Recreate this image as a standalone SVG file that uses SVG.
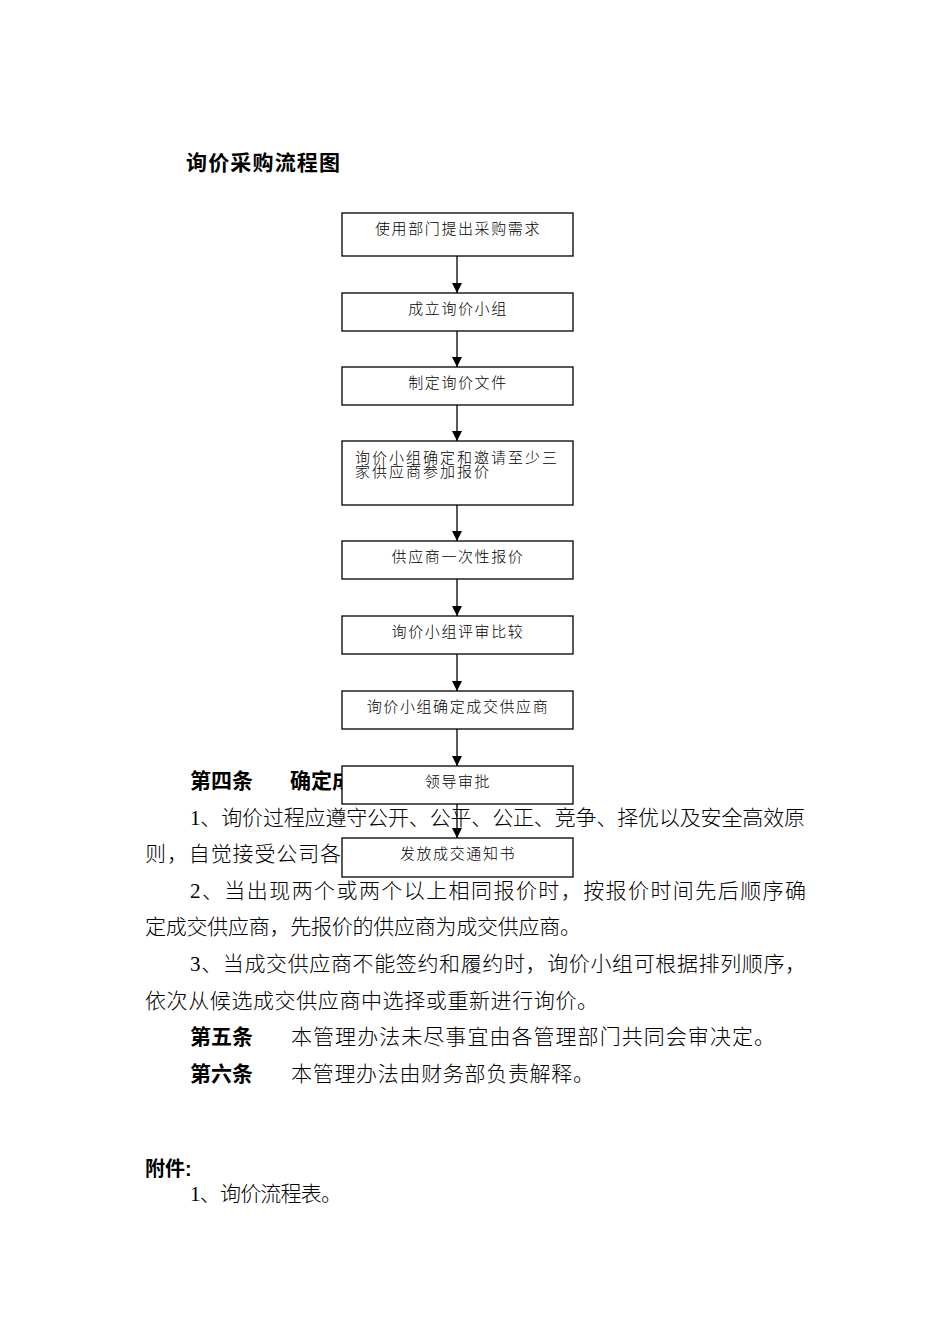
<svg xmlns="http://www.w3.org/2000/svg" width="950" height="1344" viewBox="0 0 950 1344">
<style>
.body{font-family:"Liberation Serif","Noto Sans CJK SC",serif;font-size:21px;fill:#000;font-weight:300}
.bold{font-family:"Liberation Sans","Noto Sans CJK SC",sans-serif;font-size:21px;fill:#000;font-weight:bold}
.box{fill:#fff;stroke:#000;stroke-width:1.3}
.lbl{font-family:"Liberation Serif","Noto Sans CJK SC",serif;font-size:15px;fill:#000;letter-spacing:1.6px;font-weight:300}
.mid{text-anchor:middle}
.conn line{stroke:#000;stroke-width:1.3;marker-end:url(#ah)}
</style>
<defs>
<marker id="ah" markerUnits="userSpaceOnUse" markerWidth="10" markerHeight="10" refX="10" refY="5" orient="auto">
<path d="M0,0 L10,5 L0,10 z" fill="#000"/>
</marker>
</defs>
<rect width="950" height="1344" fill="#fff"/>
<g id="title"><text class="bold" x="186" y="170" textLength="154" lengthAdjust="spacing">询价采购流程图</text></g>
<g id="bodytext">
<text class="bold" x="190" y="788" textLength="63" lengthAdjust="spacing">第四条</text>
<text class="bold" x="290" y="788">确定成</text>
<text class="body" x="190" y="824.6" textLength="615" lengthAdjust="spacing">1、询价过程应遵守公开、公平、公正、竞争、择优以及安全高效原</text>
<text class="body" x="145" y="861.2" textLength="196" lengthAdjust="spacing">则，自觉接受公司各</text>
<text class="body" x="190" y="897.8" textLength="616" lengthAdjust="spacing">2、当出现两个或两个以上相同报价时，按报价时间先后顺序确</text>
<text class="body" x="145" y="934.4" textLength="436" lengthAdjust="spacing">定成交供应商，先报价的供应商为成交供应商。</text>
<text class="body" x="190" y="971" textLength="616" lengthAdjust="spacing">3、当成交供应商不能签约和履约时，询价小组可根据排列顺序，</text>
<text class="body" x="145" y="1007.6" textLength="453" lengthAdjust="spacing">依次从候选成交供应商中选择或重新进行询价。</text>
<text class="bold" x="190" y="1044.2" textLength="63" lengthAdjust="spacing">第五条</text>
<text class="body" x="291" y="1044.2" textLength="484" lengthAdjust="spacing">本管理办法未尽事宜由各管理部门共同会审决定。</text>
<text class="bold" x="190" y="1080.8" textLength="63" lengthAdjust="spacing">第六条</text>
<text class="body" x="291" y="1080.8" textLength="303" lengthAdjust="spacing">本管理办法由财务部负责解释。</text>
<text class="bold" x="145" y="1176" style="font-size:20px">附件:</text>
<text class="body" x="190" y="1201" textLength="152" lengthAdjust="spacing">1、询价流程表。</text>
</g>
<g id="n1"><rect class="box" x="342" y="213" width="231" height="43"/><text class="lbl mid" x="458" y="234">使用部门提出采购需求</text></g>
<g id="n2"><rect class="box" x="342" y="293" width="231" height="38"/><text class="lbl mid" x="458" y="314">成立询价小组</text></g>
<g id="n3"><rect class="box" x="342" y="367" width="231" height="38"/><text class="lbl mid" x="458" y="388">制定询价文件</text></g>
<g id="n4"><rect class="box" x="342" y="441" width="231" height="64"/><text class="lbl" x="355" y="463" style="letter-spacing:2px">询价小组确定和邀请至少三</text><text class="lbl" x="355" y="477" style="letter-spacing:2px">家供应商参加报价</text></g>
<g id="n5"><rect class="box" x="342" y="541" width="231" height="38"/><text class="lbl mid" x="458" y="562">供应商一次性报价</text></g>
<g id="n6"><rect class="box" x="342" y="616" width="231" height="38"/><text class="lbl mid" x="458" y="637">询价小组评审比较</text></g>
<g id="n7"><rect class="box" x="342" y="691" width="231" height="38"/><text class="lbl mid" x="458" y="712">询价小组确定成交供应商</text></g>
<g id="n8"><rect class="box" x="342" y="766" width="231" height="38"/><text class="lbl mid" x="458" y="787">领导审批</text></g>
<g id="n9"><rect class="box" x="342" y="838" width="231" height="39"/><text class="lbl mid" x="458" y="859">发放成交通知书</text></g>
<g id="connectors" class="conn">
<line x1="457" y1="256" x2="457" y2="293"/>
<line x1="457" y1="331" x2="457" y2="367"/>
<line x1="457" y1="405" x2="457" y2="441"/>
<line x1="457" y1="505" x2="457" y2="541"/>
<line x1="457" y1="579" x2="457" y2="616"/>
<line x1="457" y1="654" x2="457" y2="691"/>
<line x1="457" y1="729" x2="457" y2="766"/>
<line x1="457" y1="804" x2="457" y2="838"/>
</g>
</svg>
